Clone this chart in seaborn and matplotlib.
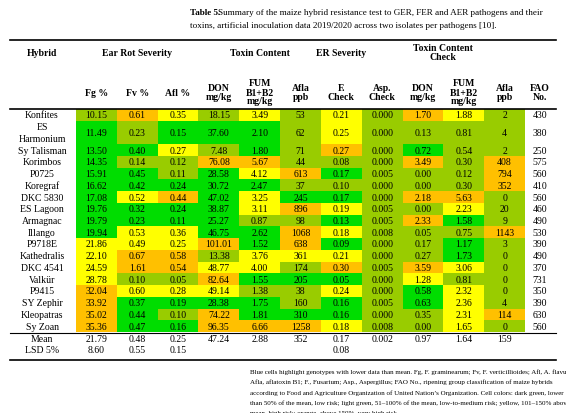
import matplotlib
matplotlib.use('Agg')
import matplotlib.pyplot as plt
import seaborn as sns
import numpy as np
from matplotlib.colors import ListedColormap

plt.rcParams['font.family'] = ['Liberation Serif', 'DejaVu Serif']

hybrids = ['Konfites', 'ES\nHarmonium', 'Sy Talisman', 'Korimbos', 'P0725', 'Koregraf', 'DKC 5830',
           'ES Lagoon', 'Armagnac', 'Illango', 'P9718E', 'Kathedralis', 'DKC 4541', 'Valkür',
           'P9415', 'SY Zephir', 'Kleopatras', 'Sy Zoan']
fg = ['10.15', '11.49', '13.50', '14.35', '15.91', '16.62', '17.08', '19.76', '19.79', '19.94',
      '21.86', '22.10', '24.59', '28.78', '32.04', '33.92', '35.02', '35.36']
fv = ['0.61', '0.23', '0.40', '0.14', '0.45', '0.42', '0.52', '0.32', '0.23', '0.53',
      '0.49', '0.67', '1.61', '0.10', '0.60', '0.37', '0.44', '0.47']
afl = ['0.35', '0.15', '0.27', '0.12', '0.11', '0.24', '0.44', '0.24', '0.11', '0.36',
       '0.25', '0.58', '0.54', '0.05', '0.28', '0.19', '0.10', '0.16']
don = ['18.15', '37.60', '7.48', '76.08', '28.58', '30.72', '47.02', '38.87', '25.27', '46.75',
       '101.01', '13.38', '48.77', '82.64', '49.14', '28.38', '74.22', '96.35']
fum = ['3.49', '2.10', '1.80', '5.67', '4.12', '2.47', '3.25', '3.11', '0.87', '2.62',
       '1.52', '3.76', '4.00', '1.55', '1.38', '1.75', '1.81', '6.66']
afla = ['53', '62', '71', '44', '613', '37', '245', '896', '98', '1068',
        '638', '361', '174', '205', '38', '160', '310', '1258']
f_check = ['0.21', '0.25', '0.27', '0.08', '0.17', '0.10', '0.17', '0.19', '0.13', '0.18',
           '0.09', '0.21', '0.30', '0.05', '0.24', '0.16', '0.16', '0.18']
asp_check = ['0.000', '0.000', '0.000', '0.000', '0.005', '0.000', '0.000', '0.005', '0.005', '0.008',
             '0.000', '0.000', '0.005', '0.000', '0.000', '0.005', '0.000', '0.008']
don_c = ['1.70', '0.13', '0.72', '3.49', '0.00', '0.00', '2.18', '0.00', '2.33', '0.05',
         '0.17', '0.27', '3.59', '1.28', '0.58', '0.63', '0.35', '0.00']
fum_c = ['1.88', '0.81', '0.54', '0.30', '0.12', '0.30', '5.63', '2.23', '1.58', '0.75',
         '1.17', '1.73', '3.06', '0.81', '2.32', '2.36', '2.31', '1.65']
afla_c = ['2', '4', '2', '408', '794', '352', '0', '20', '9', '1143',
          '3', '0', '0', '0', '0', '4', '114', '0']
fao = ['430', '380', '250', '575', '560', '410', '560', '460', '490', '530',
       '390', '490', '370', '731', '350', '390', '630', '560']
mean_row = ['21.79', '0.48', '0.25', '47.24', '2.88', '352', '0.17', '0.002', '0.97', '1.64', '159']
lsd_row = ['8.60', '0.55', '0.15', '', '', '', '0.08', '', '', '', '']

# cell colour classes: 0 dark green, 1 light green, 2 yellow, 3 orange
risk = ['1 3 2 1 2 1 2 1 3 2 1',
        '0 1 0 0 0 1 2 1 1 1 1',
        '0 0 2 1 0 1 3 1 0 1 1',
        '0 1 1 3 3 1 1 1 3 1 3',
        '0 0 1 0 2 3 0 1 1 1 3',
        '0 0 0 0 0 1 1 1 1 1 3',
        '0 2 3 0 2 0 0 1 3 3 1',
        '0 0 0 0 2 3 2 1 1 2 1',
        '0 0 0 0 1 1 0 1 3 0 1',
        '0 2 2 0 0 3 2 1 1 1 3',
        '2 2 2 3 0 3 0 1 1 0 1',
        '2 3 3 1 2 2 2 1 1 0 1',
        '2 3 3 2 2 1 3 1 3 2 1',
        '2 1 1 3 0 0 0 1 2 1 1',
        '3 2 2 2 1 1 2 1 0 2 1',
        '3 0 0 0 0 1 0 1 0 2 1',
        '3 0 1 3 0 0 0 1 1 2 3',
        '3 0 0 3 3 3 2 1 1 2 1']

cols = [fg, fv, afl, don, fum, afla, f_check, asp_check, don_c, fum_c, afla_c]
codes = np.array([[int(v) for v in r.split()] for r in risk])
# ES Harmonium takes two text lines, so it spans two grid rows
heights = [2 if '\n' in h else 1 for h in hybrids]
grid = np.repeat(codes, heights, axis=0)
cmap = ListedColormap(['#00dd00', '#99cc00', '#ffff00', '#ffc000'])

W, H = 566, 414
fig = plt.figure(figsize=(W / 100, H / 100), dpi=100)
x0, x1, y0, y1 = 76, 525, 110, 333
ax = fig.add_axes([x0 / W, 1 - y1 / H, (x1 - x0) / W, (y1 - y0) / H])
sns.heatmap(grid, cmap=cmap, vmin=-0.5, vmax=3.5, cbar=False, ax=ax, xticklabels=False, yticklabels=False)
ax.set_xlabel('')
ax.set_ylabel('')

fs = 7.0
ncol = len(cols)
cw = (x1 - x0) / ncol
rh = (y1 - y0) / grid.shape[0]


def px(x, y):
    return x / W, 1 - y / H


r = 0
for i, h in enumerate(hybrids):
    yc = r + heights[i] / 2
    for j, c in enumerate(cols):
        ax.text(j + 0.5, yc, c[i], ha='center', va='center', fontsize=fs)
    fig.text(*px(42, y0 + yc * rh), h, ha='center', va='center', fontsize=fs, linespacing=1.3)
    fig.text(*px(540, y0 + yc * rh), fao[i], ha='center', va='center', fontsize=fs)
    r += heights[i]

fig.text(*px(42, 340), 'Mean', ha='center', va='center', fontsize=fs)
fig.text(*px(42, 351), 'LSD 5%', ha='center', va='center', fontsize=fs)
for j in range(ncol):
    xc = x0 + (j + 0.5) * cw
    fig.text(*px(xc, 340), mean_row[j], ha='center', va='center', fontsize=fs)
    fig.text(*px(xc, 351), lsd_row[j], ha='center', va='center', fontsize=fs)

# headers
hdr2 = ['Fg %', 'Fv %', 'Afl %', 'DON\nmg/kg', 'FUM\nB1+B2\nmg/kg', 'Afla\nppb', 'F.\nCheck',
        'Asp.\nCheck', 'DON\nmg/kg', 'FUM\nB1+B2\nmg/kg', 'Afla\nppb']
for j, t in enumerate(hdr2):
    fig.text(*px(x0 + (j + 0.5) * cw, 93), t, ha='center', va='center', fontsize=fs,
             fontweight='bold', linespacing=1.0)
fig.text(*px(540, 93), 'FAO\nNo.', ha='center', va='center', fontsize=fs, fontweight='bold', linespacing=1.0)
groups = [('Hybrid', 42), ('Ear Rot Severity', x0 + 1.5 * cw), ('Toxin Content', x0 + 4.5 * cw),
          ('ER Severity', x0 + 6.5 * cw), ('Toxin Content\nCheck', x0 + 9 * cw)]
for t, xc in groups:
    fig.text(*px(xc, 53), t, ha='center', va='center', fontsize=fs, fontweight='bold', linespacing=1.0)

# rules
for y, lw, xa in [(41, 1.2, 10), (110, 1.2, 10), (334, 0.8, 10), (361, 1.2, 10)]:
    fig.add_artist(plt.Line2D([xa / W, 556 / W], [1 - y / H, 1 - y / H], color='black', lw=lw))

tfs = 6.6
fig.text(*px(190, 13), 'Table 5.', ha='left', va='center', fontsize=tfs, fontweight='bold')
fig.text(*px(218, 13), 'Summary of the maize hybrid resistance test to GER, FER and AER pathogens and their',
         ha='left', va='center', fontsize=tfs)
fig.text(*px(190, 26), 'toxins, artificial inoculation data 2019/2020 across two isolates per pathogens [10].',
         ha='left', va='center', fontsize=tfs)

caption = ['Blue cells highlight genotypes with lower data than mean. Fg, F. graminearum; Fv, F. verticillioides; Afl, A. flavus;',
           'Afla, aflatoxin B1; F., Fusarium; Asp., Aspergillus; FAO No., ripening group classification of maize hybrids',
           'according to Food and Agriculture Organization of United Nation\u2019s Organization. Cell colors: dark green, lower',
           'than 50% of the mean, low risk; light green, 51\u2013100% of the mean, low-to-medium risk; yellow, 101\u2013150% above',
           'mean, high risk; orange, above 150%, very high risk.']
for k, line in enumerate(caption):
    fig.text(*px(250, 372 + k * 10.5), line, ha='left', va='center', fontsize=5.0)

fig.savefig('out.png', dpi=100)
